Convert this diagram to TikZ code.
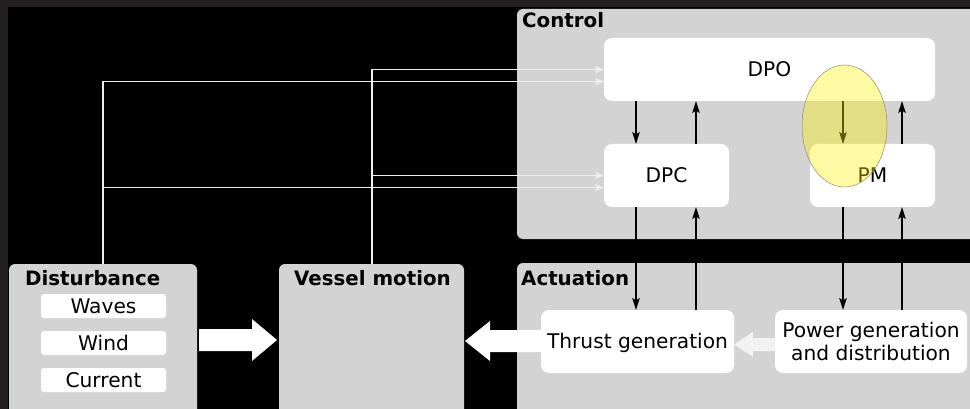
\documentclass[tikz,border=0pt]{standalone}
\usepackage{fontspec}
\setmainfont{DejaVu Sans}
\usetikzlibrary{arrows.meta,calc}
\definecolor{framegray}{HTML}{231F20}
\definecolor{panelgray}{HTML}{D3D3D3}
\definecolor{wireclr}{HTML}{EEEEEE}
\definecolor{hilite}{HTML}{FFF200}
\begin{document}
\begin{tikzpicture}[x=1pt,y=-1pt,
  font=\fontsize{20.2}{23}\selectfont,
  panel/.style={fill=panelgray, rounded corners=6pt, anchor=north west,
    inner sep=0pt, outer sep=0pt},
  boxbase/.style={fill=white, rounded corners=8pt, anchor=north west,
    inner sep=0pt, outer sep=0pt, align=center},
  box/.style={boxbase, text height=14.6pt, text depth=0pt},
  tag/.style={anchor=base west, inner sep=0pt,
    font=\fontsize{19.8}{23}\selectfont\bfseries},
  sig/.style={draw=black, line width=1.6pt,
    -{Stealth[length=12pt,width=7.5pt,inset=2.5pt]}},
  wirearr/.style={draw=wireclr, line width=1.8pt,
    -{Stealth[length=9pt,width=7pt,inset=2pt]}},
  blockarrow/.style={fill=white}
]
\useasboundingbox (0,0) rectangle (970,409);
\clip (0,0) rectangle (970,409);

% background and frame
\fill[framegray] (0,0) rectangle (970,409);
\fill[black] (8,7) rectangle (980,420);

% panels
\node[panel, minimum width=470pt, minimum height=230pt] (ctrl) at (517,9) {};
\node[panel, minimum width=470pt, minimum height=160pt] (act) at (517,263) {};
\node[panel, minimum width=188pt, minimum height=160pt] (dist) at (9,264) {};
\node[panel, minimum width=185pt, minimum height=160pt] (vessel) at (279,264) {};

% panel titles
\node[tag] (ctrltag) at (522,28) {Control};
\node[tag] (acttag) at (521,285) {Actuation};
\node[tag] (disttag) at (25,285) {Disturbance};
\node[tag, anchor=base] (vesseltag) at (372.5,285) {Vessel motion};

% control blocks
\node[box, minimum width=331pt, minimum height=63pt] (dpo) at (604,38) {DPO};
\node[box, minimum width=125pt, minimum height=63pt] (dpc) at (604,144) {DPC};
\node[box, minimum width=125pt, minimum height=63pt] (pm) at (810,144) {PM};

% actuation blocks
\node[box, minimum width=193pt, minimum height=63pt] (thrust) at (541,310) {Thrust generation};
\node[boxbase, minimum width=192pt, minimum height=63pt] (power) at (775,310) {Power generation\\and distribution};

% disturbance sources
\node[box, minimum width=125pt, minimum height=24pt, rounded corners=3pt] (waves) at (41,294) {Waves};
\node[box, minimum width=125pt, minimum height=24pt, rounded corners=3pt] (wind) at (41,331) {Wind};
\node[box, minimum width=125pt, minimum height=24pt, rounded corners=3pt] (current) at (41,368) {Current};

% signal lines between control and actuation
\coordinate (xa) at (636,0);
\coordinate (xb) at (696,0);
\coordinate (xc) at (843,0);
\coordinate (xd) at (902,0);
\draw[sig] (dpo.south -| xa) -- (dpc.north -| xa);
\draw[sig] (dpc.north -| xb) -- (dpo.south -| xb);
\draw[sig] (dpo.south -| xc) -- (pm.north -| xc);
\draw[sig] (pm.north -| xd) -- (dpo.south -| xd);
\draw[sig] (dpc.south -| xa) -- (thrust.north -| xa);
\draw[sig] (thrust.north -| xb) -- (dpc.south -| xb);
\draw[sig] (pm.south -| xc) -- (power.north -| xc);
\draw[sig] (power.north -| xd) -- (pm.south -| xd);

% measurement feedback wires
\coordinate (xv) at (372,0);
\coordinate (xw) at (103,0);
\draw[wirearr] (vessel.north -| xv) |- (dpo.west);
\draw[wirearr] (vessel.north -| xv) |- (dpc.west);
\draw[wirearr] (dist.north -| xw) |- ($(dpo.west)+(0,12)$);
\draw[wirearr] (dist.north -| xw) |- ($(dpc.west)+(0,12)$);

% block arrows
\fill[blockarrow] (199,329) -- (252,329) -- (252,319) -- (277,340)
  -- (252,361) -- (252,351) -- (199,351) -- cycle;
\fill[blockarrow] (541,330) -- (490,330) -- (490,321) -- (465,341)
  -- (490,361) -- (490,352) -- (541,352) -- cycle;
\fill[white!70!panelgray] (775,338) -- (753,338) -- (753,332) -- (734,344.5)
  -- (753,357) -- (753,351) -- (775,351) -- cycle;

% highlight
\draw[draw=gray!70!olive, line width=0.5pt, fill=hilite, fill opacity=0.36]
  (844.5,126) ellipse [x radius=42.5pt, y radius=61pt];
\end{tikzpicture}
\end{document}
